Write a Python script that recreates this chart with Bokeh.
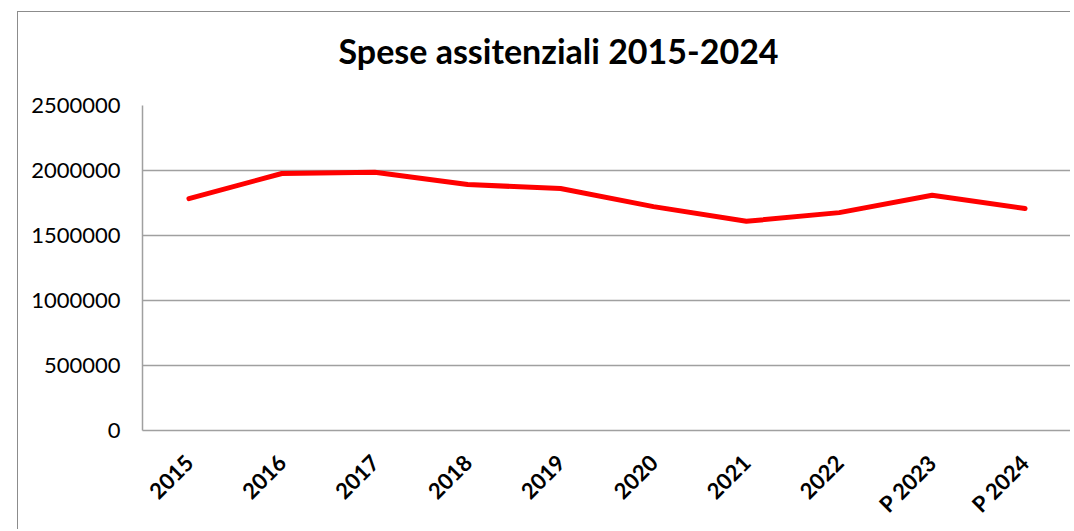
import math
from bokeh.plotting import figure
from bokeh.models import FactorRange, Range1d, FixedTicker, BasicTickFormatter, Title
from bokeh.embed import file_html
from bokeh.resources import INLINE

categories = ["2015", "2016", "2017", "2018", "2019", "2020", "2021", "2022", "P 2023", "P 2024"]
spese = [1784000, 1977000, 1987000, 1892000, 1861000, 1722000, 1609000, 1676000, 1809000, 1707000]
y_ticks = [0, 500000, 1000000, 1500000, 2000000, 2500000]
title_text = "Spese assitenziali 2015-2024"

FONT = "Lato"
GRID = "#a0a0a0"

p = figure(
    x_range=FactorRange(*categories, range_padding=0),
    y_range=Range1d(0, 2500000),
    width=1053, height=518,
    output_backend="svg", toolbar_location=None,
    min_border_left=124, min_border_right=0, min_border_top=93, min_border_bottom=100,
    margin=(11, 0, 0, 17),
    title=None,
)
p.styles = {"border-left": "1px solid #8c8c8c", "border-top": "1px solid #8c8c8c"}

# empty spacer panel between the frame and the title
spacer = Title(text=" ", text_font_size="1px", standoff=22)
p.add_layout(spacer, "above")

main_title = Title(
    text=title_text, align="left", offset=196, standoff=20,
    text_font=FONT, text_font_style="bold", text_font_size="34px", text_color="#000000",
)
p.add_layout(main_title, "above")

p.line(x=categories, y=spese, line_color="#ff0000", line_width=5, line_join="round", line_cap="round")

p.outline_line_color = None
p.background_fill_color = "white"
p.border_fill_color = "white"

p.xgrid.grid_line_color = None
p.ygrid.grid_line_color = GRID
p.ygrid.grid_line_width = 1.5
p.ygrid.ticker = FixedTicker(ticks=y_ticks)

p.yaxis.ticker = FixedTicker(ticks=y_ticks)
p.yaxis.formatter = BasicTickFormatter(use_scientific=False)
p.yaxis.axis_line_color = GRID
p.yaxis.axis_line_width = 1.5
p.yaxis.major_tick_line_color = None
p.yaxis.minor_tick_line_color = None
p.yaxis.major_label_text_font = FONT
p.yaxis.major_label_text_font_size = "22px"
p.yaxis.major_label_text_color = "#000000"
p.yaxis.major_label_standoff = 16

p.xaxis.axis_line_color = GRID
p.xaxis.axis_line_width = 1.5
p.xaxis.major_tick_line_color = None
p.xaxis.minor_tick_line_color = None
p.xaxis.major_label_orientation = math.pi / 4
p.xaxis.major_label_text_font = FONT
p.xaxis.major_label_text_font_style = "bold"
p.xaxis.major_label_text_font_size = "22px"
p.xaxis.major_label_text_color = "#000000"
p.xaxis.major_label_standoff = 22

open("out.html", "w").write(file_html(p, INLINE))
